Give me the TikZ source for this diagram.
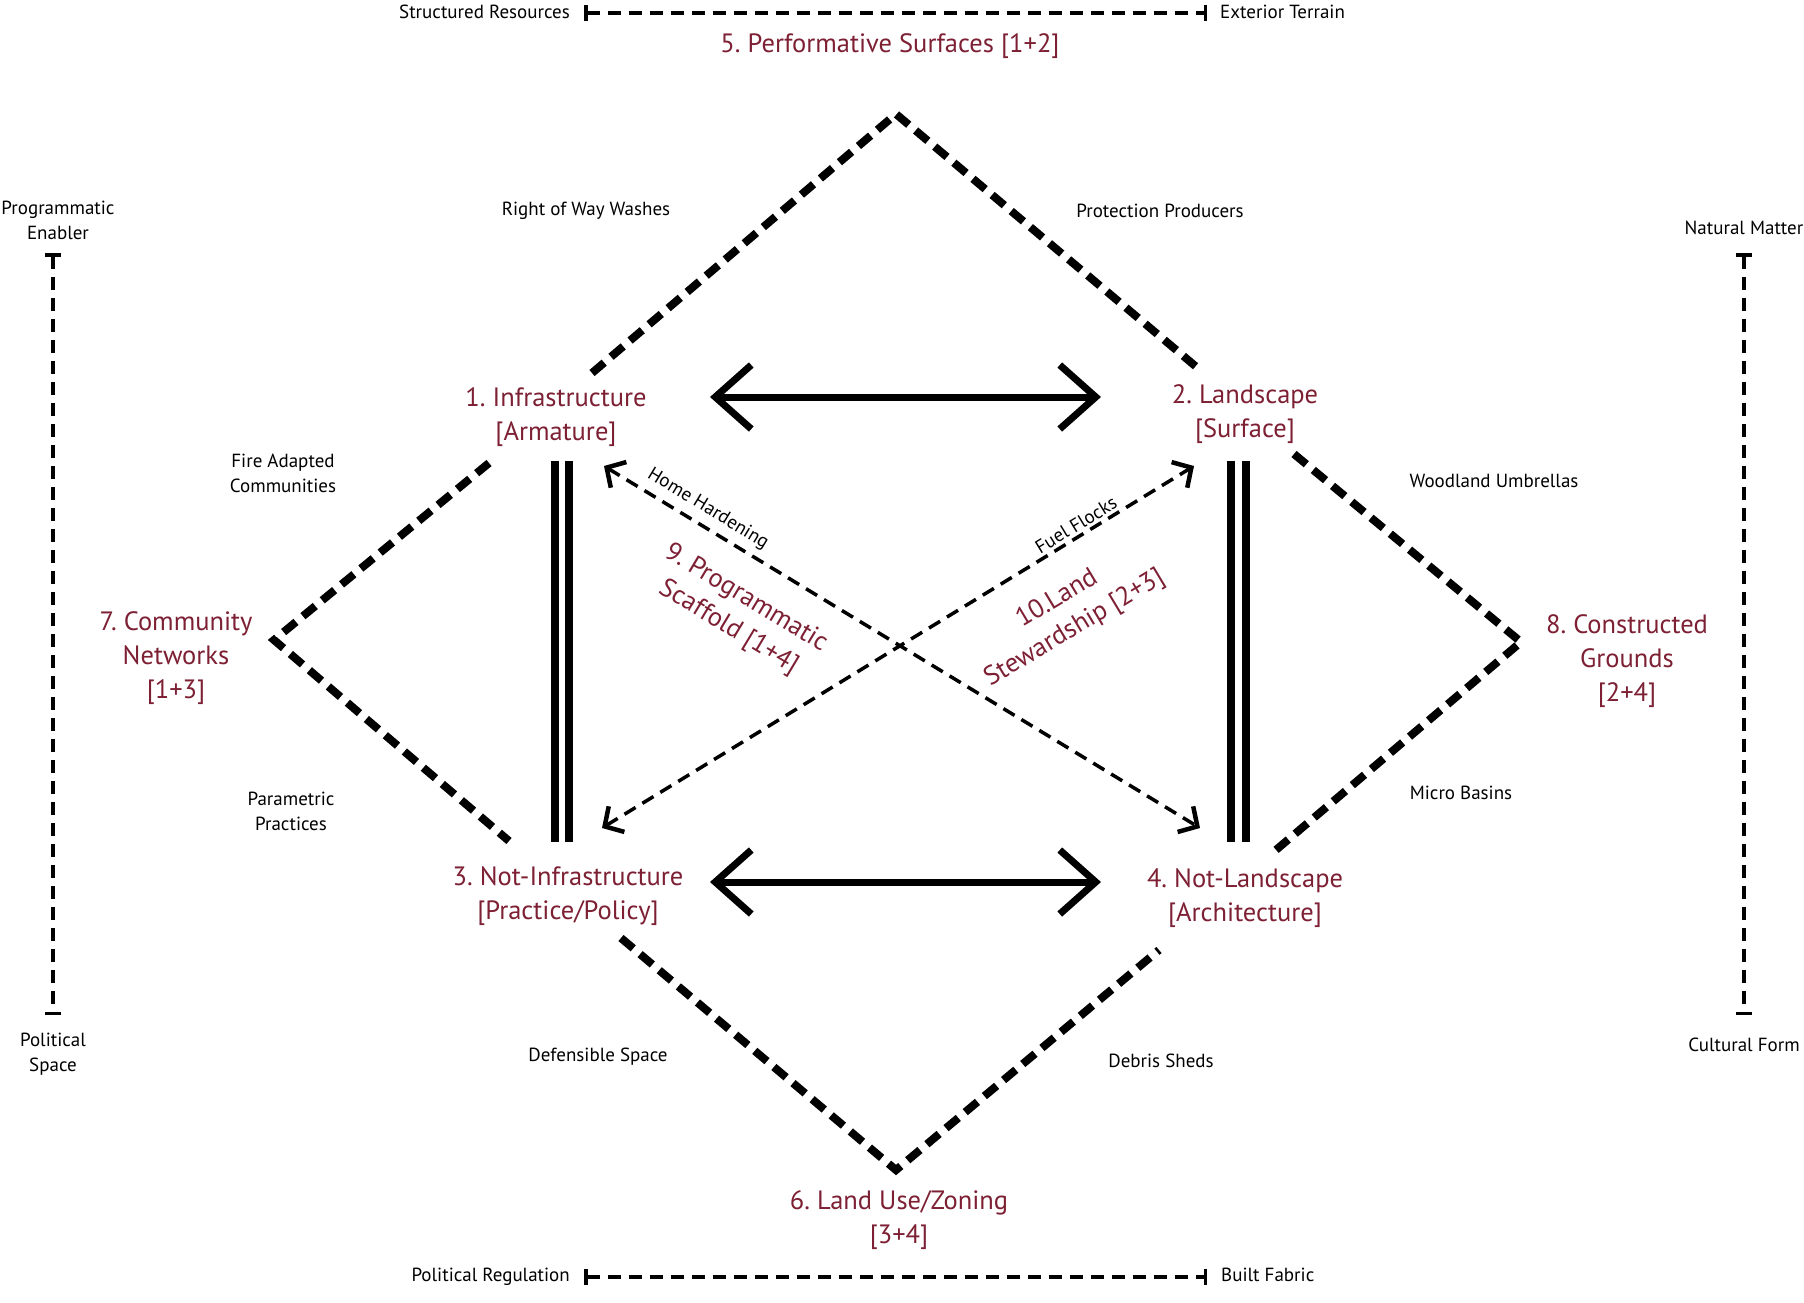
\documentclass[tikz,border=0pt]{standalone}
\usepackage{fontspec}
\setmainfont{PT Sans}
\usetikzlibrary{arrows.meta}
\definecolor{wine}{RGB}{125,32,52}
\frenchspacing
\tikzset{
  redlbl/.style={text=wine, font=\fontsize{26.5}{34}\selectfont, align=center, inner sep=0pt},
  blklbl/.style={text=black, font=\fontsize{19}{25}\selectfont, align=center, inner sep=0pt},
  diam/.style={line width=8pt, dash pattern=on 16pt off 9pt},
  axisbar/.style={line width=3.5pt, dash pattern=on 13pt off 8pt, {Bar[width=16pt,line width=3.5pt]}-{Bar[width=16pt,line width=3.5pt]}},
  bigarrow/.style={line width=7pt, {Straight Barb[length=36pt 0 0,width=64pt 0 0,line width=7pt]}-{Straight Barb[length=36pt 0 0,width=64pt 0 0,line width=7pt]}},
  dasharrow/.style={line width=3.5pt, dash pattern=on 13pt off 8pt, {Straight Barb[length=14pt 0 0,width=30pt 0 0,line width=4.5pt]}-{Straight Barb[length=14pt 0 0,width=30pt 0 0,line width=4.5pt]}},
  dblline/.style={line width=8pt}
}
\begin{document}
\begin{tikzpicture}[x=1pt,y=-1pt]
\useasboundingbox (0,0) rectangle (1804,1302);
\fill[white] (0,0) rectangle (1804,1302);

% main nodes
\node[redlbl] (n1) at (556,417) {1. Infrastructure\\{[}Armature{]}};
\node[redlbl] (n2) at (1245,414) {2. Landscape\\{[}Surface{]}};
\node[redlbl] (n3) at (568,896) {3. Not-Infrastructure\\{[}Practice/Policy{]}};
\node[redlbl] (n4) at (1245,898) {4. Not-Landscape\\{[}Architecture{]}};
\node[redlbl] (n5) at (890,46) {5. Performative Surfaces [1+2]};
\node[redlbl] (n6) at (899,1220) {6. Land Use/Zoning\\{[}3+4{]}};
\node[redlbl] (n7) at (176,658) {7. Community\\Networks\\{[}1+3{]}};
\node[redlbl] (n8) at (1627,661) {8. Constructed\\Grounds\\{[}2+4{]}};
\node[redlbl, rotate=-31] (n9) at (737,613) {9. Programmatic\\Scaffold [1+4]};
\node[redlbl, rotate=31] (n10) at (1066,614) {10.Land\\Stewardship [2+3]};

% edge labels
\node[blklbl] (lrow) at (586,211) {Right of Way Washes};
\node[blklbl] (lpp) at (1160,211) {Protection Producers};
\node[blklbl] (lfac) at (283,473) {Fire Adapted\\Communities};
\node[blklbl] (lpar) at (291,811) {Parametric\\Practices};
\node[blklbl] (lwu) at (1494,481) {Woodland Umbrellas};
\node[blklbl] (lmb) at (1461,793) {Micro Basins};
\node[blklbl] (lds) at (598,1057) {Defensible Space};
\node[blklbl] (ldb) at (1161,1061) {Debris Sheds};
\node[blklbl, rotate=-31.3] (lhh) at (708,509) {Home Hardening};
\node[blklbl, rotate=31.4] (lff) at (1076,525) {Fuel Flocks};

% axis labels
\node[blklbl, anchor=east] (lsr) at (570,12) {Structured Resources};
\node[blklbl, anchor=west] (let) at (1220,12) {Exterior Terrain};
\node[blklbl, anchor=east] (lpr) at (570,1277) {Political Regulation};
\node[blklbl, anchor=west] (lbf) at (1221,1275) {Built Fabric};
\node[blklbl] (lpe) at (58,220) {Programmatic\\Enabler};
\node[blklbl] (lps) at (53,1054) {Political\\Space};
\node[blklbl] (lnm) at (1744,228) {Natural Matter};
\node[blklbl] (lcf) at (1744,1045) {Cultural Form};

% coordinates
\coordinate (tl) at (584,13);
\coordinate (tr) at (1207,13);
\coordinate (bl) at (584,1277);
\coordinate (br) at (1207,1277);
\coordinate (lt) at (53,253);
\coordinate (lb) at (53,1015);
\coordinate (rt) at (1744,253);
\coordinate (rb) at (1744,1015);

\coordinate (topapex) at (896,114);
\coordinate (topL) at (592,373);
\coordinate (topR) at (1200,370);
\coordinate (leftapex) at (274,640);
\coordinate (leftU) at (489,463);
\coordinate (leftD) at (509,841);
\coordinate (rightapex) at (1521,642);
\coordinate (rightU) at (1294,454);
\coordinate (rightD) at (1270,855);
\coordinate (botapex) at (896,1170);
\coordinate (botL) at (621,938);
\coordinate (botR) at (1159,950);

\coordinate (a1) at (710,397);
\coordinate (a2) at (1101,397);
\coordinate (a3) at (710,882);
\coordinate (a4) at (1101,882);

\coordinate (hh1) at (604,466);
\coordinate (hh2) at (1200,828);
\coordinate (ff1) at (602,828);
\coordinate (ff2) at (1194,466);

% axis bars
\draw[axisbar] (tl) -- (tr);
\draw[axisbar] (bl) -- (br);
\draw[axisbar] (lt) -- (lb);
\draw[axisbar] (rt) -- (rb);

% diamonds
\draw[diam] (topL) -- (topapex) -- (topR);
\draw[diam] (leftU) -- (leftapex) -- (leftD);
\draw[diam] (rightU) -- (rightapex) -- (rightD);
\draw[diam] (botL) -- (botapex) -- (botR);

% big arrows
\draw[bigarrow] (a1) -- (a2);
\draw[bigarrow] (a3) -- (a4);

% double lines
\draw[dblline] (555,461) -- (555,842);
\draw[dblline] (569,461) -- (569,842);
\draw[dblline] (1231,461) -- (1231,842);
\draw[dblline] (1246,461) -- (1246,842);

% dashed arrows
\draw[dasharrow] (hh1) -- (hh2);
\draw[dasharrow] (ff1) -- (ff2);
\end{tikzpicture}
\end{document}
